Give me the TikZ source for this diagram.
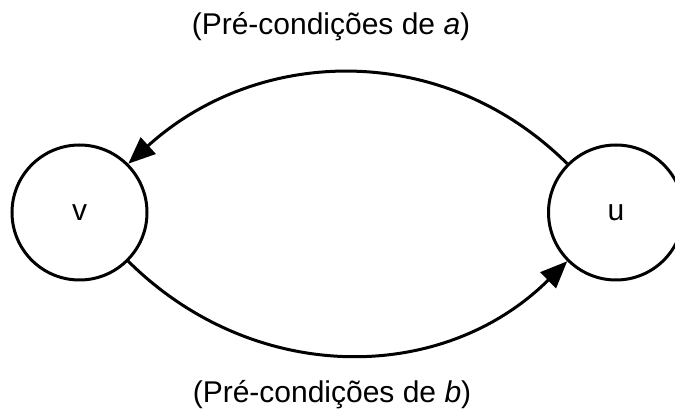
\documentclass[tikz,border=0pt]{standalone}
\usepackage{fontspec}
\setmainfont{Liberation Sans}
\usetikzlibrary{arrows.meta}
\begin{document}
\begin{tikzpicture}[x=1pt,y=1pt,
  state/.style={circle,draw,line width=3pt,inner sep=0pt,minimum size=135pt,font=\fontsize{30}{36}\selectfont},
  conn/.style={line width=3pt,-{Triangle[length=27pt,width=22pt]}},
  lbl/.style={anchor=base,inner sep=0pt,font=\fontsize{30}{36}\selectfont}]
\clip (0,0) rectangle (675,410);
\fill[white] (0,0) rectangle (675,410);
\node[state] (v) at (79.5,197.5) {v};
\node[state] (u) at (616,197.5) {u};
\node[lbl] (ta) at (331,375) {(Pré-condições de \textit{a})};
\node[lbl] (tb) at (332,8) {(Pré-condições de \textit{b})};
\draw[conn] (u.135) .. controls +(-124,123) and +(130,118) .. (v.45);
\draw[conn] (v.-45) .. controls +(125,-124) and +(-125,-124) .. (u.225);
\end{tikzpicture}
\end{document}
